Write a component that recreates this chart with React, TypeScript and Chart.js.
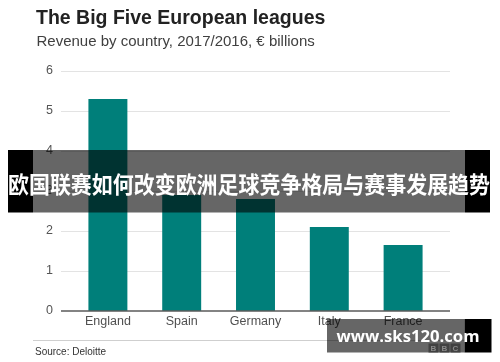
import React, { useEffect, useRef } from "react";
import { Chart, registerables } from "chart.js";

Chart.register(...registerables);

const categories = ["England", "Spain", "Germany", "Italy", "France"];
const revenue = [5.3, 2.9, 2.8, 2.1, 1.65];
const yMin = 0;
const yMax = 6;
const yStep = 1;

const titleText = "The Big Five European leagues";
const subtitleText = "Revenue by country, 2017/2016, € billions";
const sourceText = "Source: Deloitte";
const bannerText = "欧国联赛如何改变欧洲足球竞争格局与赛事发展趋势";
const watermarkText = "www.sks120.com";

const SANS = "'Liberation Sans', Arial, Helvetica, sans-serif";

function drawFitted(
  ctx: CanvasRenderingContext2D,
  text: string,
  font: string,
  x: number,
  y: number,
  width: number,
  align: "left" | "center"
) {
  ctx.save();
  ctx.font = font;
  const w = ctx.measureText(text).width;
  const s = width / w;
  const startX = align === "center" ? x - width / 2 : x;
  ctx.translate(startX, y);
  ctx.scale(s, 1);
  ctx.textAlign = "left";
  ctx.fillText(text, 0, 0);
  ctx.restore();
}

const gridPlugin = {
  id: "extGrid",
  beforeDatasetsDraw(chart: any) {
    const { ctx, chartArea, scales } = chart;
    const y = scales.y;
    ctx.save();
    ctx.strokeStyle = "#e3e3e3";
    ctx.lineWidth = 1;
    for (let v = yMin + yStep; v <= yMax; v += yStep) {
      const py = Math.round(y.getPixelForValue(v)) + 0.5;
      ctx.beginPath();
      ctx.moveTo(chartArea.left - 10, py);
      ctx.lineTo(chartArea.right + 10, py);
      ctx.stroke();
    }
    ctx.restore();
  },
  afterDatasetsDraw(chart: any) {
    const { ctx, chartArea, scales } = chart;
    const py = scales.y.getPixelForValue(yMin);
    ctx.save();
    ctx.strokeStyle = "#5a5a5a";
    ctx.lineWidth = 1.5;
    ctx.beginPath();
    ctx.moveTo(chartArea.left - 10, py);
    ctx.lineTo(chartArea.right + 10, py);
    ctx.stroke();
    ctx.restore();
  },
};

const decorPlugin = {
  id: "decor",
  afterDraw(chart: any) {
    const ctx: CanvasRenderingContext2D = chart.ctx;
    ctx.save();
    ctx.textBaseline = "alphabetic";
    // title
    ctx.fillStyle = "#222222";
    ctx.font = `bold 19.5px ${SANS}`;
    ctx.fillText(titleText, 36, 23.5);
    // subtitle
    ctx.fillStyle = "#404040";
    ctx.font = `15px ${SANS}`;
    ctx.fillText(subtitleText, 36.5, 45.7);
    // footer rule
    ctx.strokeStyle = "#cfcfcf";
    ctx.lineWidth = 1;
    ctx.beginPath();
    ctx.moveTo(33, 340.5);
    ctx.lineTo(465, 340.5);
    ctx.stroke();
    // source
    ctx.fillStyle = "#333333";
    ctx.font = `10px ${SANS}`;
    ctx.fillText(sourceText, 35, 354.5);

    // banner
    ctx.fillStyle = "#000000";
    ctx.fillRect(8, 150, 25, 62.5);
    ctx.fillRect(465, 150, 25, 62.5);
    ctx.fillStyle = "rgba(0,0,0,0.6)";
    ctx.fillRect(33, 150, 432, 62.5);
    ctx.fillStyle = "#ffffff";
    ctx.textBaseline = "middle";
    drawFitted(ctx, bannerText, `bold 23px 'Noto Sans CJK SC', sans-serif`, 249, 184, 482, "center");

    // watermark
    ctx.fillStyle = "rgba(0,0,0,0.6)";
    ctx.fillRect(327, 319, 137.5, 33.5);
    ctx.fillStyle = "#000000";
    ctx.fillRect(464.5, 319, 27, 33.5);
    // BBC blocks
    const letters = ["B", "B", "C"];
    for (let i = 0; i < 3; i++) {
      const bx = 428.5 + i * 11;
      ctx.fillStyle = "#414141";
      ctx.fillRect(bx, 343.5, 10, 9);
      ctx.fillStyle = "#8a8a8a";
      ctx.font = `bold 8px ${SANS}`;
      ctx.textAlign = "center";
      ctx.textBaseline = "middle";
      ctx.fillText(letters[i], bx + 5, 348.3);
    }
    ctx.textAlign = "left";
    ctx.textBaseline = "alphabetic";
    ctx.fillStyle = "#ffffff";
    drawFitted(ctx, watermarkText, `bold 16px 'Open Sans', sans-serif`, 336.5, 341.7, 143, "left");
    ctx.restore();
  },
};

export default function App() {
  const ref = useRef<HTMLCanvasElement | null>(null);
  useEffect(() => {
    document.body.style.margin = "0";
    const canvas = ref.current;
    if (!canvas) return;
    const chart = new Chart(canvas, {
      type: "bar",
      data: {
        labels: categories,
        datasets: [
          {
            data: revenue,
            backgroundColor: "#007f7a",
            borderWidth: 0,
            categoryPercentage: 1,
            barPercentage: 0.528,
          },
        ],
      },
      options: {
        animation: false,
        responsive: false,
        maintainAspectRatio: false,
        layout: { padding: { left: 0, right: 60, top: 71, bottom: 0 } },
        plugins: { legend: { display: false }, tooltip: { enabled: false }, title: { display: false } },
        scales: {
          x: {
            grid: { display: false, drawTicks: false },
            border: { display: false },
            ticks: {
              color: "#505050",
              font: { family: SANS, size: 12.5 },
              padding: 3,
              maxRotation: 0,
            },
            afterFit(scale: any) {
              scale.height = 51;
            },
          },
          y: {
            min: yMin,
            max: yMax,
            grid: { display: false, drawTicks: false },
            border: { display: false },
            ticks: {
              stepSize: yStep,
              color: "#555555",
              font: { family: SANS, size: 12.5 },
              padding: 18,
            },
            afterFit(scale: any) {
              scale.width = 71;
            },
          },
        },
      },
      plugins: [gridPlugin, decorPlugin],
    });
    return () => chart.destroy();
  }, []);
  return (
    <div style={{ position: "fixed", left: 0, top: 0, width: 500, height: 362, background: "#ffffff" }}>
      <canvas ref={ref} width={500} height={362} />
    </div>
  );
}
